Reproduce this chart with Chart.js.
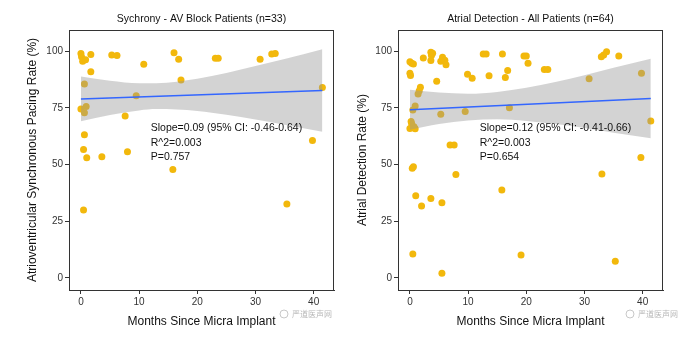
<!DOCTYPE html>
<html>
<head>
<meta charset="utf-8">
<script src="https://cdn.jsdelivr.net/npm/chart.js@4.4.0/dist/chart.umd.min.js"></script>
<style>
  html, body { margin: 0; padding: 0; background: #fff; }
  #wrap { position: relative; width: 693px; height: 350px; }
  canvas { position: absolute; top: 0; }
</style>
</head>
<body>
<div id="wrap">
  <canvas id="avChart" width="346" height="350" style="left:0;width:346px;height:350px"></canvas>
  <canvas id="adChart" width="347" height="350" style="left:346px;width:347px;height:350px"></canvas>
</div>
<script>
// tick labels shared by both panels
const xTicks = [0, 10, 20, 30, 40];
const yTicks = [0, 25, 50, 75, 100];

// left panel: AV synchrony, 33 patients
const avMonths = [0.0, 0.1, 0.3, 0.8, 1.7, 5.3, 6.2, 10.8, 1.7, 0.6, 16.0, 16.8, 17.2, 23.1, 23.6, 30.8, 32.8,
  33.4, 41.5, 9.5, 0.0, 0.9, 0.6, 7.6, 0.6, 0.45, 1.0, 3.6, 8.0, 15.8, 39.8, 0.45, 35.4];
const avRate = [99.0, 97.6, 95.6, 96.3, 98.6, 98.4, 98.2, 94.3, 91.0, 85.6, 99.4, 96.5, 87.3, 96.9, 96.9, 96.5, 98.8,
  99.0, 84.0, 80.4, 74.5, 75.6, 72.9, 71.5, 63.2, 56.7, 53.0, 53.5, 55.7, 47.9, 60.6, 30.0, 32.6];
const avFitX = [0, 41.5];
const avFitY = [79.0, 82.7];
const avBandX = [0, 5, 10, 13, 20, 25, 30, 35, 41.5];
const avBandUpper = [88.9, 87.0, 85.9, 85.9, 87.9, 90.4, 93.5, 96.6, 100.9];
const avBandLower = [69.1, 71.9, 73.9, 74.5, 73.7, 72.0, 69.9, 67.6, 64.5];

// right panel: atrial detection, 64 patients
const adMonths = [0.0, 0.3, 0.6, 0.0, 0.1, 2.3, 3.6, 3.7, 3.6, 3.9, 5.6, 6.0, 5.3, 6.2, 4.6, 1.8, 1.6, 1.4,
  0.9, 0.5, 0.2, 0.3, 0.7, 0.0, 0.9, 5.3, 9.5, 17.1, 9.9, 10.7, 12.6, 13.1, 13.6, 15.9, 16.8, 16.4,
  19.6, 20.0, 20.3, 23.1, 23.7, 30.8, 32.9, 33.3, 33.8, 35.9, 39.8, 41.4, 6.9, 7.6, 0.4, 0.6, 7.9, 33.0,
  39.7, 1.0, 2.0, 3.6, 5.5, 15.8, 0.5, 5.5, 19.1, 35.3];
const adRate = [95.4, 94.7, 94.4, 90.3, 89.3, 97.0, 99.6, 98.2, 95.9, 99.1, 97.4, 96.0, 95.6, 94.1, 86.8, 84.1, 82.6, 81.2,
  75.9, 74.1, 69.0, 68.0, 66.7, 66.0, 65.8, 72.2, 73.4, 75.1, 89.9, 88.1, 98.8, 98.8, 89.2, 98.8, 91.5, 88.5,
  97.9, 97.9, 94.7, 92.0, 92.0, 87.9, 97.6, 98.4, 99.8, 97.9, 90.3, 69.3, 58.7, 58.7, 48.4, 49.1, 45.7, 45.9,
  53.1, 36.3, 31.8, 35.1, 33.2, 38.8, 10.6, 2.1, 10.1, 7.4];
const adFitX = [0, 41.4];
const adFitY = [74.2, 79.2];
const adBandX = [0, 5, 10, 15, 20, 25, 30, 35, 41.4];
const adBandUpper = [83.0, 81.8, 81.3, 82.1, 83.9, 86.5, 89.4, 92.7, 96.7];
const adBandLower = [65.4, 67.9, 69.5, 70.0, 69.3, 67.9, 66.2, 64.1, 61.7];

const FONT = "'Liberation Sans', Arial, sans-serif";
Chart.defaults.font.family = FONT;

const toPoints = (xs, ys) => xs.map((x, i) => ({ x, y: ys[i] }));

const chartAreaBorder = {
  id: 'chartAreaBorder',
  afterDraw(chart) {
    const { ctx, chartArea: { left, top, width, height } } = chart;
    ctx.save();
    ctx.strokeStyle = '#333';
    ctx.lineWidth = 1;
    ctx.strokeRect(left + 0.5, top + 0.5, width - 1, height);
    ctx.restore();
  },
};

const panelText = {
  id: 'panelText',
  afterDraw(chart, args, opts) {
    const { ctx, chartArea, scales: { x, y } } = chart;
    ctx.save();
    ctx.fillStyle = '#111';
    ctx.font = '10.5px ' + FONT;
    ctx.textAlign = 'center';
    ctx.textBaseline = 'middle';
    ctx.fillText(opts.title, (chartArea.left + chartArea.right) / 2, 19);

    ctx.textAlign = 'left';
    const sx = x.getPixelForValue(opts.statsAt[0]);
    const sy = y.getPixelForValue(opts.statsAt[1]);
    opts.stats.forEach((line, i) => ctx.fillText(line, sx, sy + i * 14.6));

    // watermark
    ctx.fillStyle = '#b8b8b8';
    ctx.font = "8px 'Noto Sans CJK SC'";
    ctx.fillText('严道医声网', opts.markX, 314);
    ctx.strokeStyle = '#c8c8c8';
    ctx.beginPath();
    ctx.arc(opts.markX - 8, 314, 4, 0, Math.PI * 2);
    ctx.stroke();
    ctx.restore();
  },
};

function makePanel(canvas, p) {
  new Chart(canvas, {
    type: 'scatter',
    data: {
      datasets: [
        {
          data: toPoints(p.fitX, p.fitY),
          showLine: true,
          borderColor: '#3366FF',
          borderWidth: 1.5,
          pointRadius: 0,
          order: 0,
        },
        {
          data: toPoints(p.bandX, p.bandUpper),
          showLine: true,
          borderWidth: 0,
          pointRadius: 0,
          cubicInterpolationMode: 'monotone',
          fill: '+1',
          backgroundColor: 'rgba(150,150,150,0.42)',
          order: 2,
        },
        {
          data: toPoints(p.bandX, p.bandLower),
          showLine: true,
          borderWidth: 0,
          pointRadius: 0,
          cubicInterpolationMode: 'monotone',
          fill: false,
          order: 2,
        },
        {
          data: toPoints(p.months, p.rate),
          pointRadius: 3.5,
          pointBackgroundColor: '#F2B80C',
          pointBorderWidth: 0,
          order: 3,
        },
      ],
    },
    plugins: [chartAreaBorder, panelText],
    options: {
      responsive: false,
      animation: false,
      events: [],
      layout: { padding: { top: 30, right: p.rightPad, left: 0, bottom: 0 } },
      plugins: {
        legend: { display: false },
        tooltip: { enabled: false },
        panelText: { title: p.title, stats: p.stats, statsAt: [12, 66], markX: p.markX },
      },
      scales: {
        x: {
          type: 'linear',
          min: -2.05,
          max: 43.5,
          afterBuildTicks: (s) => { s.ticks = xTicks.map((v) => ({ value: v })); },
          afterFit: (s) => { s.height = 60; },
          grid: { drawOnChartArea: false, tickLength: 4, tickColor: '#333' },
          border: { color: '#333', width: 1 },
          ticks: { color: '#333', font: { size: 10 }, padding: 2, maxRotation: 0 },
          title: {
            display: true,
            text: 'Months Since Micra Implant',
            color: '#111',
            font: { size: 12 },
            padding: { top: 0, bottom: 21 },
          },
        },
        y: {
          type: 'linear',
          min: -5.3,
          max: 109.4,
          afterBuildTicks: (s) => { s.ticks = yTicks.map((v) => ({ value: v })); },
          afterFit: (s) => { s.width = p.yWidth; },
          grid: { drawOnChartArea: false, tickLength: 4, tickColor: '#333' },
          border: { color: '#333', width: 1 },
          ticks: { color: '#333', font: { size: 10 }, padding: 2 },
          title: {
            display: true,
            text: p.yTitle,
            color: '#111',
            font: { size: 12 },
            padding: { top: p.yTitlePad, bottom: 0 },
          },
        },
      },
    },
  });
}

makePanel(document.getElementById('avChart'), {
  title: 'Sychrony - AV Block Patients (n=33)',
  yTitle: 'Atrioventricular Synchronous Pacing Rate (%)',
  months: avMonths, rate: avRate,
  fitX: avFitX, fitY: avFitY,
  bandX: avBandX, bandUpper: avBandUpper, bandLower: avBandLower,
  stats: ['Slope=0.09 (95% CI: -0.46-0.64)', 'R^2=0.003', 'P=0.757'],
  yWidth: 69, yTitlePad: 25, rightPad: 12, markX: 292,
});

makePanel(document.getElementById('adChart'), {
  title: 'Atrial Detection - All Patients (n=64)',
  yTitle: 'Atrial Detection Rate (%)',
  months: adMonths, rate: adRate,
  fitX: adFitX, fitY: adFitY,
  bandX: adBandX, bandUpper: adBandUpper, bandLower: adBandLower,
  stats: ['Slope=0.12 (95% CI: -0.41-0.66)', 'R^2=0.003', 'P=0.654'],
  yWidth: 52, yTitlePad: 9, rightPad: 30, markX: 292,
});
</script>
</body>
</html>
